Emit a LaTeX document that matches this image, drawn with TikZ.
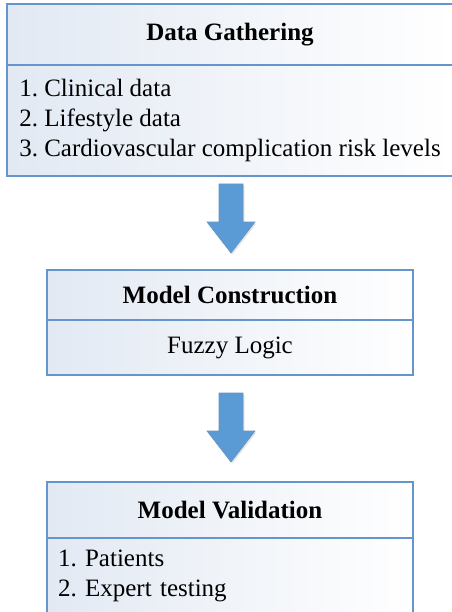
\documentclass[tikz,border=0pt]{standalone}
\usepackage{fontspec}
\setmainfont{Liberation Serif}
\usetikzlibrary{positioning,shadows}
\definecolor{boxline}{RGB}{100,150,205}
\definecolor{boxshade}{RGB}{226,233,243}
\definecolor{arrowblue}{RGB}{91,155,213}
\frenchspacing
\tikzset{
	headbox/.style={draw=boxline, line width=1.6pt, left color=boxshade, right color=white,
		outer sep=0pt, font=\bfseries\fontsize{25}{30}\selectfont},
	bodybox/.style={draw=boxline, line width=1.6pt, left color=boxshade, right color=white,
		outer sep=0pt, inner xsep=11pt, align=left, font=\fontsize{25}{30}\selectfont},
	downarrow/.style={fill=arrowblue, draw=arrowblue!75!gray, line width=0.6pt,
		drop shadow={shadow xshift=1.5pt, shadow yshift=-1.5pt, opacity=0.2}}
}
\begin{document}
\begin{tikzpicture}[x=1pt,y=1pt]
	\useasboundingbox (0,0) rectangle (451,-612);
	% data gathering
	\node[headbox, minimum width=446, minimum height=61] (gathhead) at (230,-34.5) {Data Gathering};
	\node[bodybox, minimum width=446, minimum height=111, below=0pt of gathhead] (gathbody)
		{1. Clinical data\\2. Lifestyle data\\3. Cardiovascular complication risk levels};
	% model construction
	\node[headbox, minimum width=366, minimum height=50] (conshead) at (230,-295) {Model Construction};
	\node[bodybox, minimum width=366, minimum height=55, align=center, below=0pt of conshead] (consbody)
		{Fuzzy Logic};
	% model validation
	\node[headbox, minimum width=366, minimum height=56] (validhead) at (230,-510) {Model Validation};
	\node[bodybox, minimum width=366, minimum height=76, text width=344, below=0pt of validhead] (validbody)
		{1. Patients\\2. Expert testing};
	% arrows
	\coordinate (a1) at (231,-184);
	\coordinate (a2) at (231,-393);
	\path[downarrow] (a1) ++(-12,0) -- ++(0,-38) -- ++(-12,0) -- ++(24,-31) -- ++(24,31) -- ++(-12,0) -- ++(0,38) -- cycle;
	\path[downarrow] (a2) ++(-12,0) -- ++(0,-38) -- ++(-12,0) -- ++(24,-31) -- ++(24,31) -- ++(-12,0) -- ++(0,38) -- cycle;
\end{tikzpicture}
\end{document}
